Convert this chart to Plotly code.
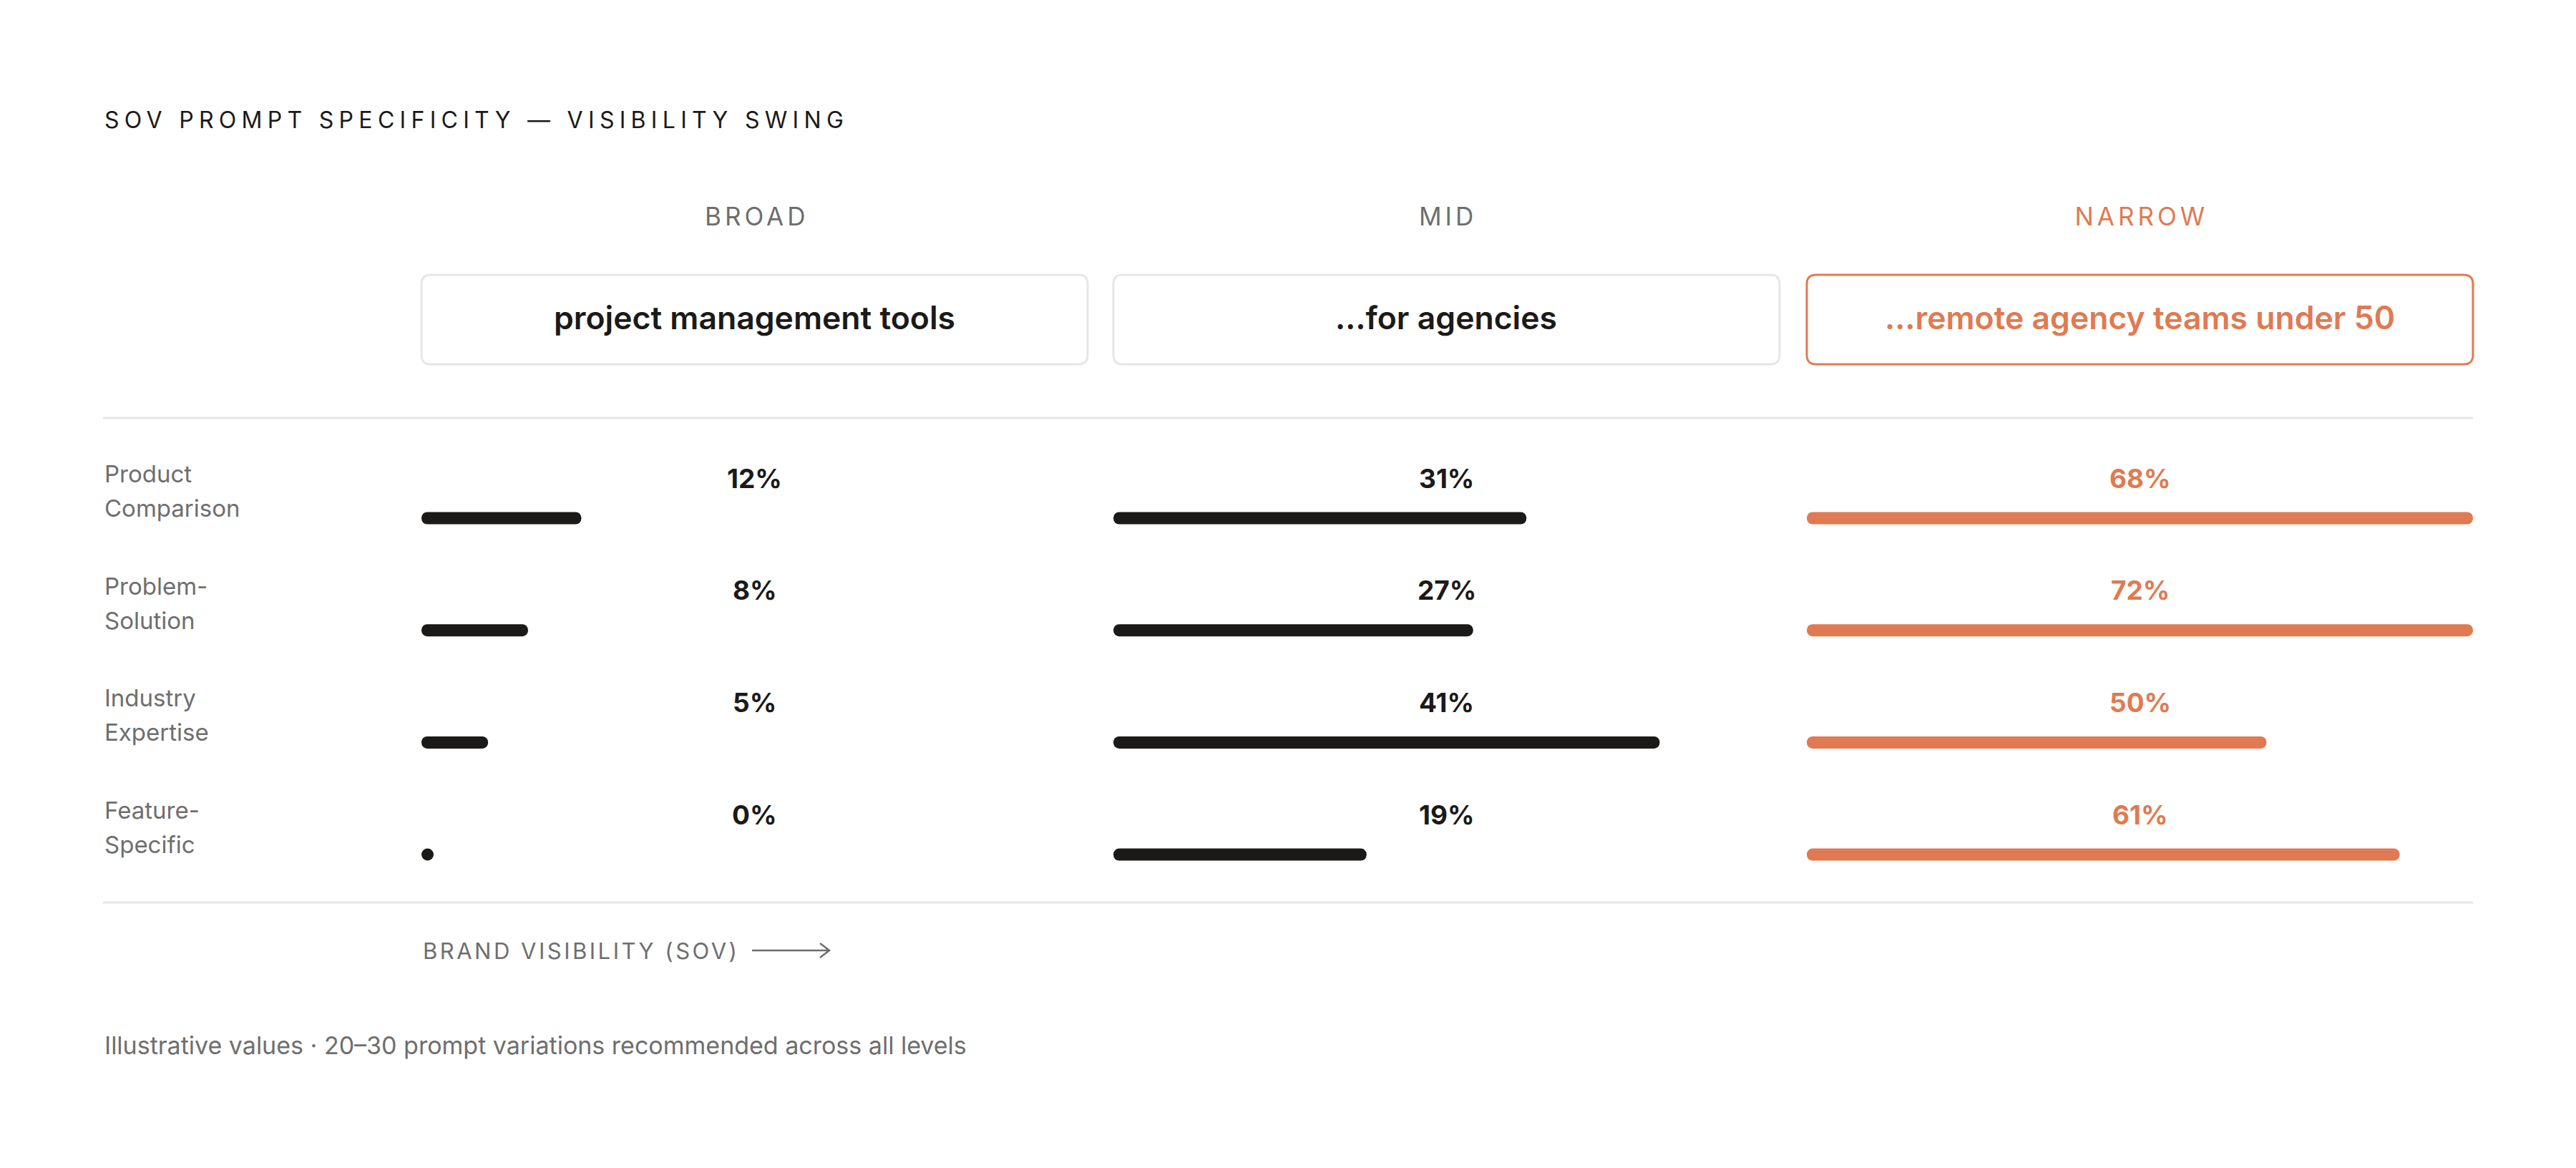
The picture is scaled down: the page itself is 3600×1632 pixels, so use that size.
import json

import plotly.graph_objects as go

# ---- data ----
row_labels = ["Product<br>Comparison", "Problem-<br>Solution", "Industry<br>Expertise", "Feature-<br>Specific"]
levels = ["BROAD", "MID", "NARROW"]
prompts = ["project management tools", "…for agencies", "…remote agency teams under 50"]

sov_broad = [12, 8, 5, 0]
sov_mid = [31, 27, 41, 19]
sov_narrow = [68, 72, 50, 61]

# how much of each bar track is filled (percent of column width)
fill_broad = [24, 16, 10, 0]
fill_mid = [62, 54, 82, 38]
fill_narrow = [100, 100, 69, 89]

title = "SOV PROMPT SPECIFICITY — VISIBILITY SWING"
axis_note = "BRAND VISIBILITY (SOV)"
footnote = "Illustrative values · 20–30 prompt variations recommended across all levels"

# ---- layout constants (pixels) ----
W, H = 3600, 1632
LEFT, RIGHT = 144, 3456
COL_X0 = [589, 1556, 2525]
COL_W = 931
ROW_TOP = 724
ROW_PITCH = 156.7
BAR_PX = 17
BOX_Y0, BOX_Y1 = 384, 509

FONT = "Inter"
INK = "#1b1a19"
GREY = "#6e6e6e"
ORANGE = "#e07a52"
RULE = "#e6e6e4"


def px(x):
    return x / W


def py(y):
    return 1 - y / H


def rounded_box(hw, hh, r):
    return (
        f"M {-hw + r},{-hh} L {hw - r},{-hh} Q {hw},{-hh} {hw},{-hh + r} "
        f"L {hw},{hh - r} Q {hw},{hh} {hw - r},{hh} L {-hw + r},{hh} "
        f"Q {-hw},{hh} {-hw},{hh - r} L {-hw},{-hh + r} Q {-hw},{-hh} {-hw + r},{-hh} Z"
    )


def label(text, x, y, size, color, xanchor="center", weight=400, **kw):
    return dict(
        text=text, xref="paper", x=x, yref="paper", y=y,
        xanchor=xanchor, yanchor="middle", showarrow=False,
        font=dict(family=FONT, size=size, color=color, weight=weight), **kw,
    )


columns = [
    (sov_broad, fill_broad, INK, GREY, INK, "#e6e6e4"),
    (sov_mid, fill_mid, INK, GREY, INK, "#e6e6e4"),
    (sov_narrow, fill_narrow, ORANGE, ORANGE, ORANGE, ORANGE),
]
rows = list(range(len(row_labels)))

fig = go.Figure()
annotations = []
shapes = []

for c, (sov, fill, bar_color, head_color, text_color, box_color) in enumerate(columns):
    xname = "x" if c == 0 else f"x{c + 1}"
    fig.add_trace(
        go.Bar(
            x=fill,
            y=rows,
            base=0,
            orientation="h",
            width=BAR_PX / ROW_PITCH,
            marker=dict(color=bar_color, cornerradius="50%", line=dict(width=0)),
            xaxis=xname,
            yaxis="y",
            hoverinfo="skip",
            showlegend=False,
        )
    )
    # zero values still show a dot at the start of the track
    zeros = [r for r, v in zip(rows, fill) if v == 0]
    if zeros:
        fig.add_trace(
            go.Scatter(
                x=[BAR_PX / 2 / COL_W * 100] * len(zeros),
                y=zeros,
                mode="markers",
                marker=dict(color=bar_color, size=BAR_PX, line=dict(width=0)),
                xaxis=xname,
                yaxis="y",
                hoverinfo="skip",
                showlegend=False,
            )
        )

    for r, v in zip(rows, sov):
        annotations.append(dict(
            text=f"{v}%", xref=f"{xname} domain", x=0.5, xanchor="center",
            yref="y", y=r, yanchor="middle", yshift=56, showarrow=False,
            font=dict(family=FONT, size=37, color=text_color, weight=700),
        ))

    cx = COL_X0[c] + COL_W / 2
    cy = (BOX_Y0 + BOX_Y1) / 2
    annotations.append(label(levels[c], px(cx), py(302), 35, head_color))
    annotations.append(label(prompts[c], px(cx), py(cy - 2), 44.5, text_color, weight=600))
    shapes.append(dict(
        type="path", xref="paper", yref="paper",
        xsizemode="pixel", ysizemode="pixel",
        xanchor=px(cx), yanchor=py(cy),
        path=rounded_box(COL_W / 2, (BOX_Y1 - BOX_Y0) / 2, 13),
        line=dict(color=box_color, width=3), fillcolor="white", layer="below",
    ))

# row names, one annotation per line to get the reference's line height
for r, lab in zip(rows, row_labels):
    for k, line in enumerate(lab.split("<br>")):
        annotations.append(dict(
            text=line, xref="paper", x=px(LEFT), xanchor="left",
            yref="y", y=r, yanchor="middle", yshift=62 - 48 * k, showarrow=False,
            font=dict(family=FONT, size=33, color=GREY),
        ))

annotations += [
    label(title, px(LEFT), py(168), 32, INK, xanchor="left"),
    label(axis_note, px(COL_X0[0]), py(1328), 31, GREY, xanchor="left"),
    label(footnote, px(LEFT), py(1460), 34, GREY, xanchor="left"),
]

# horizontal rules above and below the bars
for y in (584, 1261):
    shapes.append(dict(type="line", xref="paper", yref="paper", x0=px(LEFT), x1=px(RIGHT),
                       y0=py(y), y1=py(y), line=dict(color=RULE, width=3)))

# arrow after the axis note
shapes.append(dict(
    type="path", xref="paper", yref="paper", xsizemode="pixel", ysizemode="pixel",
    xanchor=px(1051), yanchor=py(1328),
    path="M 0,0 L 108,0 M 95,-10 L 108,0 L 95,10",
    line=dict(color=GREY, width=2.5),
))

axis_common = dict(range=[0, 100], visible=False, fixedrange=True, anchor="y")
fig.update_layout(
    width=W,
    height=H,
    margin=dict(l=0, r=0, t=0, b=0),
    paper_bgcolor="white",
    plot_bgcolor="rgba(0,0,0,0)",
    showlegend=False,
    barmode="overlay",
    xaxis=dict(domain=[px(COL_X0[0]), px(COL_X0[0] + COL_W)], **axis_common),
    xaxis2=dict(domain=[px(COL_X0[1]), px(COL_X0[1] + COL_W)], **axis_common),
    xaxis3=dict(domain=[px(COL_X0[2]), px(COL_X0[2] + COL_W)], **axis_common),
    yaxis=dict(
        domain=[py(ROW_TOP + 3.5 * ROW_PITCH), py(ROW_TOP - 0.5 * ROW_PITCH)],
        range=[3.5, -0.5], visible=False, fixedrange=True,
    ),
    annotations=annotations,
    shapes=shapes,
)

# plotly has no letter-spacing option, so set it on the rendered text.
# annotation text is drawn centred, so shift it back to keep its anchor.
spacing = {
    title: [7.3, "left"],
    axis_note: [3.5, "left"],
    "BROAD": [5, "center"],
    "MID": [5, "center"],
    "NARROW": [5, "center"],
}
post_script = (
    "document.body.style.margin = '0';\n"
    "var gd = document.getElementById('{plot_id}');\n"
    f"var spacing = {json.dumps(spacing, ensure_ascii=False)};\n"
    "function applySpacing() {\n"
    "  gd.querySelectorAll('text.annotation-text').forEach(function (el) {\n"
    "    var s = spacing[el.textContent];\n"
    "    if (!s || el.getAttribute('data-ls')) { return; }\n"
    "    el.style.letterSpacing = s[0] + 'px';\n"
    "    var n = el.textContent.length;\n"
    "    var dx = s[1] === 'left' ? s[0] * n / 2 : s[0] / 2;\n"
    "    el.setAttribute('x', parseFloat(el.getAttribute('x') || 0) + dx);\n"
    "    el.setAttribute('data-ls', '1');\n"
    "  });\n"
    "}\n"
    "applySpacing();\n"
    "gd.on('plotly_afterplot', applySpacing);\n"
)

fig.write_html("out.html", post_script=post_script, config={"displayModeBar": False})
